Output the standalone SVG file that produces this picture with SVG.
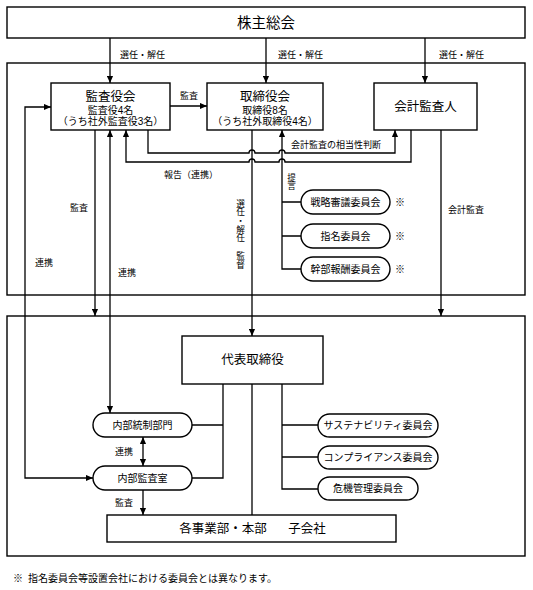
<svg xmlns="http://www.w3.org/2000/svg" width="533" height="590" viewBox="0 0 533 590">
<style>
.b{fill:#fff;stroke:#000;stroke-width:1.4}
.o{fill:none;stroke:#000;stroke-width:1.4}
.l{fill:none;stroke:#000;stroke-width:1.3}
text{font-family:"Liberation Sans","Noto Sans CJK JP",sans-serif;fill:#000}
.c{text-anchor:middle;dominant-baseline:central}
.s{text-anchor:start;dominant-baseline:central}
.t14{font-size:14.5px}
.t13{font-size:12.5px}
.t10{font-size:10px}
.p{font-size:10px}
.lb{font-size:9px}
.v{writing-mode:vertical-rl;font-size:8.7px}
</style>
<defs>
<marker id="a" viewBox="0 0 8 8" refX="8" refY="4" markerWidth="7" markerHeight="7" markerUnits="userSpaceOnUse" orient="auto-start-reverse"><path d="M0,0.5 L8,4 L0,7.5 z" fill="#000"/></marker>
</defs>

<!-- outer frames -->
<rect class="o" x="7" y="63" width="518" height="232"/>
<rect class="o" x="7" y="316" width="518" height="240"/>

<g id="connectors">
<path class="l" d="M110,38 V83" marker-end="url(#a)"/>
<path class="l" d="M266,38 V83" marker-end="url(#a)"/>
<path class="l" d="M425,38 V83" marker-end="url(#a)"/>
<path class="l" d="M170,106 H207" marker-end="url(#a)"/>
<path class="l" d="M148,130 V153 H249 a3,3 0 0 1 6,0 H279 a3,3 0 0 1 6,0 H395 V130" marker-end="url(#a)"/>
<path class="l" d="M411,130 V162 H285 a3,3 0 0 0 -6,0 H255 a3,3 0 0 0 -6,0 H126 V130" marker-end="url(#a)"/>
<path class="l" d="M95,130 V316" marker-end="url(#a)"/>
<path class="l" d="M110,130 V413" marker-start="url(#a)" marker-end="url(#a)"/>
<path class="l" d="M51,107 H25 V478 H93" marker-start="url(#a)" marker-end="url(#a)"/>
<path class="l" d="M252,130 V336" marker-end="url(#a)"/>
<path class="l" d="M301,269 H282 V130" marker-end="url(#a)"/>
<path class="l" d="M282,202 H301 M282,236 H301"/>
<path class="l" d="M441,130 V316" marker-end="url(#a)"/>
<path class="l" d="M223,384 V478 H192 M223,425 H192"/>
<path class="l" d="M252,384 V515"/>
<path class="l" d="M282,384 V489 H318 M282,425 H318 M282,457 H318"/>
<path class="l" d="M143,437 V466" marker-start="url(#a)" marker-end="url(#a)"/>
<path class="l" d="M143,490 V515" marker-end="url(#a)"/>
</g>

<g id="labels">
<text class="s lb" x="120" y="55">選任・解任</text>
<text class="s lb" x="278" y="55">選任・解任</text>
<text class="s lb" x="439" y="55">選任・解任</text>
<text class="s lb" x="180" y="96">監査</text>
<text class="s lb" x="291" y="145">会計監査の相当性判断</text>
<text class="s lb" x="164" y="175">報告（連携）</text>
<text class="s lb" x="70" y="208">監査</text>
<text class="s lb" x="35" y="263">連携</text>
<text class="s lb" x="118" y="273">連携</text>
<text class="s lb" x="448" y="210">会計監査</text>
<text class="v" x="240" y="199">選任・解任　監督</text>
<text class="v" x="291" y="173">提言</text>
<text class="s lb" x="115" y="452">連携</text>
<text class="s lb" x="115" y="503">監査</text>
</g>

<g id="kabunushi">
<rect class="b" x="7" y="7" width="518" height="31"/>
<text class="c t14" x="266" y="22.5">株主総会</text>
</g>

<g id="kansayakukai">
<rect class="b" x="51" y="83" width="119" height="47"/>
<text class="c t13" x="110.5" y="97">監査役会</text>
<text class="c t10" x="110.5" y="110">監査役4名</text>
<text class="c t10" x="110.5" y="121.5">（うち社外監査役3名）</text>
</g>

<g id="torishimariyakukai">
<rect class="b" x="207" y="83" width="116" height="47"/>
<text class="c t13" x="265" y="97">取締役会</text>
<text class="c t10" x="265" y="110">取締役8名</text>
<text class="c t10" x="265" y="121.5">（うち社外取締役4名）</text>
</g>

<g id="kaikeikansanin">
<rect class="b" x="374" y="83" width="103" height="47"/>
<text class="c t13" x="425.5" y="107">会計監査人</text>
</g>

<g id="senryaku">
<rect class="b" x="301" y="190" width="89" height="24" rx="12"/>
<text class="c p" x="345.5" y="202">戦略審議委員会</text>
<text class="c p" x="400" y="202">※</text>
</g>
<g id="shimei">
<rect class="b" x="301" y="224" width="89" height="24" rx="12"/>
<text class="c p" x="345.5" y="236">指名委員会</text>
<text class="c p" x="400" y="236">※</text>
</g>
<g id="kanbu">
<rect class="b" x="301" y="257" width="89" height="24" rx="12"/>
<text class="c p" x="345.5" y="269">幹部報酬委員会</text>
<text class="c p" x="400" y="269">※</text>
</g>

<g id="daihyo">
<rect class="b" x="182" y="336" width="141" height="48"/>
<text class="c t13" x="252.5" y="360">代表取締役</text>
</g>

<g id="naibutousei">
<rect class="b" x="93" y="413" width="99" height="24" rx="12"/>
<text class="c p" x="142.5" y="425">内部統制部門</text>
</g>
<g id="naibukansa">
<rect class="b" x="93" y="466" width="99" height="24" rx="12"/>
<text class="c p" x="142.5" y="478">内部監査室</text>
</g>

<g id="sustainability">
<rect class="b" x="318" y="414" width="120" height="23" rx="11.5"/>
<text class="c p" x="378" y="425.5">サステナビリティ委員会</text>
</g>
<g id="compliance">
<rect class="b" x="318" y="446" width="120" height="23" rx="11.5"/>
<text class="c p" x="378" y="457.5">コンプライアンス委員会</text>
</g>
<g id="kiki">
<rect class="b" x="318" y="477" width="100" height="23" rx="11.5"/>
<text class="c p" x="368" y="488.5">危機管理委員会</text>
</g>

<g id="jigyobu">
<rect class="b" x="107" y="515" width="289" height="27"/>
<text class="c t13" x="223" y="529">各事業部・本部</text>
<text class="c t13" x="307" y="529">子会社</text>
</g>

<text class="s t10" x="13" y="578">※<tspan x="28">指名委員会等設置会社における委員会とは異なります。</tspan></text>
</svg>
